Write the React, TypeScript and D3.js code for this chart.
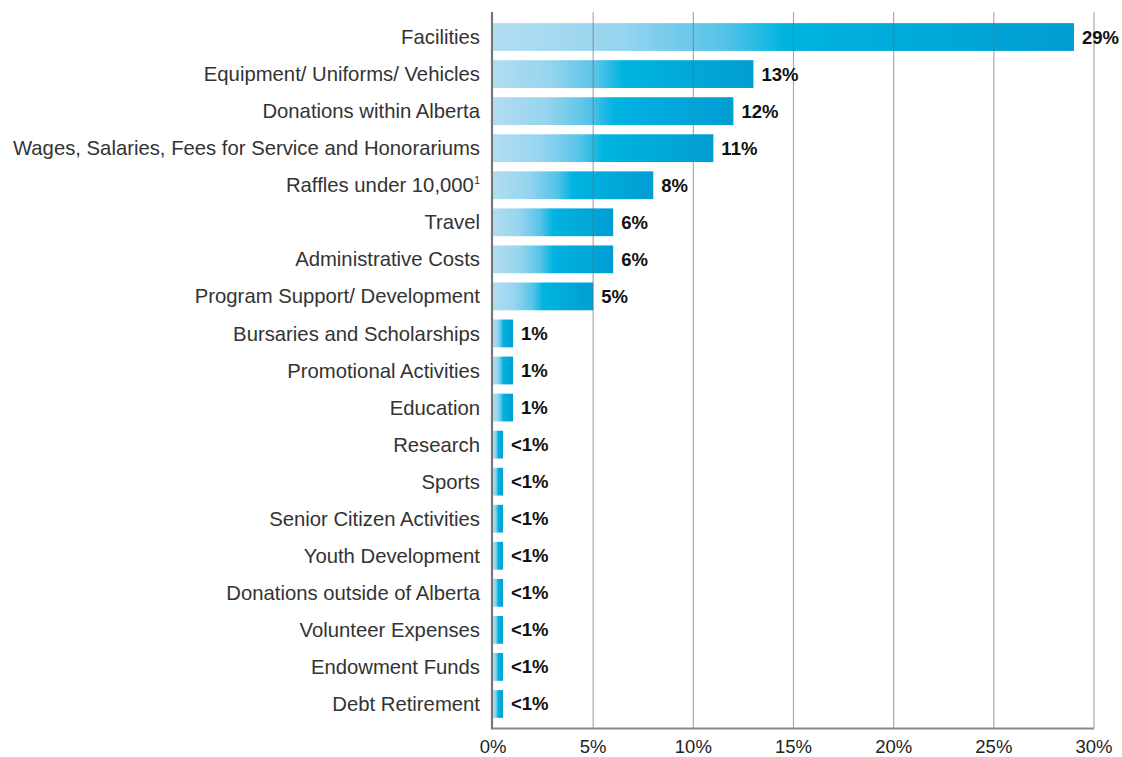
import { useEffect, useRef } from 'react'
import * as d3 from 'd3'

const categories = [
  'Facilities',
  'Equipment/ Uniforms/ Vehicles',
  'Donations within Alberta',
  'Wages, Salaries, Fees for Service and Honorariums',
  'Raffles under 10,000',
  'Travel',
  'Administrative Costs',
  'Program Support/ Development',
  'Bursaries and Scholarships',
  'Promotional Activities',
  'Education',
  'Research',
  'Sports',
  'Senior Citizen Activities',
  'Youth Development',
  'Donations outside of Alberta',
  'Volunteer Expenses',
  'Endowment Funds',
  'Debt Retirement',
]

const values = [29, 13, 12, 11, 8, 6, 6, 5, 1, 1, 1, 0.5, 0.5, 0.5, 0.5, 0.5, 0.5, 0.5, 0.5]

const valueLabels = [
  '29%', '13%', '12%', '11%', '8%', '6%', '6%', '5%', '1%', '1%', '1%',
  '<1%', '<1%', '<1%', '<1%', '<1%', '<1%', '<1%', '<1%',
]

const ticks = [0, 5, 10, 15, 20, 25, 30]

const W = 1122
const H = 757

export default function App() {
  const svgRef = useRef<SVGSVGElement>(null)

  useEffect(() => {
    if (!svgRef.current) return
    const svg = d3.select(svgRef.current)
    svg.selectAll('*').remove()

    const font = '"Liberation Sans", Arial, Helvetica, sans-serif'
    const left = 493
    const right = 1094
    const top = 12
    const bottom = 728.5

    const x = d3.scaleLinear().domain([0, 30]).range([left, right])
    const y = d3
      .scaleBand<string>()
      .domain(categories)
      .range([18.5, 722.5])
      .paddingInner(0.25)
      .paddingOuter(0.125)

    const defs = svg.append('defs')
    const grad = defs
      .append('linearGradient')
      .attr('id', 'barGrad')
      .attr('x1', '0%')
      .attr('x2', '100%')
      .attr('y1', '0%')
      .attr('y2', '0%')
    const stops: [number, string][] = [
      [0, '#b2ddf1'],
      [0.22, '#96d4ef'],
      [0.4, '#55c3e8'],
      [0.5, '#00b4e1'],
      [1, '#009dd3'],
    ]
    grad
      .selectAll('stop')
      .data(stops)
      .enter()
      .append('stop')
      .attr('offset', (d) => d[0])
      .attr('stop-color', (d) => d[1])

    const data = categories.map((c, i) => ({ cat: c, v: values[i], label: valueLabels[i] }))

    // bars
    svg
      .append('g')
      .selectAll('rect')
      .data(data)
      .enter()
      .append('rect')
      .attr('x', x(0))
      .attr('y', (d) => y(d.cat)!)
      .attr('width', (d) => x(d.v) - x(0))
      .attr('height', y.bandwidth())
      .attr('fill', 'url(#barGrad)')

    // grid lines (drawn over bars)
    svg
      .append('g')
      .selectAll('line')
      .data(ticks.filter((t) => t > 0))
      .enter()
      .append('line')
      .attr('x1', (d) => x(d))
      .attr('x2', (d) => x(d))
      .attr('y1', top)
      .attr('y2', bottom)
      .attr('stroke', '#6f6f6f')
      .attr('stroke-opacity', 0.6)
      .attr('stroke-width', 1.2)

    // axes lines
    svg
      .append('line')
      .attr('x1', x(0))
      .attr('x2', x(30))
      .attr('y1', bottom)
      .attr('y2', bottom)
      .attr('stroke', '#8a8a8a')
      .attr('stroke-width', 2)
    svg
      .append('line')
      .attr('x1', x(0) - 1)
      .attr('x2', x(0) - 1)
      .attr('y1', top)
      .attr('y2', bottom + 1)
      .attr('stroke', '#777')
      .attr('stroke-width', 2.2)

    // tick labels
    svg
      .append('g')
      .selectAll('text')
      .data(ticks)
      .enter()
      .append('text')
      .attr('x', (d) => x(d))
      .attr('y', 753)
      .attr('text-anchor', 'middle')
      .attr('font-family', font)
      .attr('font-size', 18.5)
      .attr('fill', '#222')
      .text((d) => `${d}%`)

    // category labels
    const cats = svg
      .append('g')
      .selectAll('text')
      .data(data)
      .enter()
      .append('text')
      .attr('x', left - 13)
      .attr('y', (d) => y(d.cat)! + y.bandwidth() / 2)
      .attr('dy', '0.35em')
      .attr('text-anchor', 'end')
      .attr('font-family', font)
      .attr('font-size', 20.3)
      .attr('fill', '#333')
    cats.append('tspan').text((d) => d.cat)
    cats
      .filter((d) => d.cat.startsWith('Raffles'))
      .append('tspan')
      .attr('font-size', 11)
      .attr('dy', '-0.8em')
      .text('1')

    // value labels
    svg
      .append('g')
      .selectAll('text')
      .data(data)
      .enter()
      .append('text')
      .attr('x', (d) => x(d.v) + 8)
      .attr('y', (d) => y(d.cat)! + y.bandwidth() / 2)
      .attr('dy', '0.35em')
      .attr('font-family', font)
      .attr('font-size', 18.5)
      .attr('font-weight', 'bold')
      .attr('fill', '#111')
      .text((d) => d.label)
  }, [])

  return (
    <svg
      ref={svgRef}
      width={W}
      height={H}
      style={{ position: 'absolute', left: 0, top: 0, background: '#fff' }}
    />
  )
}
